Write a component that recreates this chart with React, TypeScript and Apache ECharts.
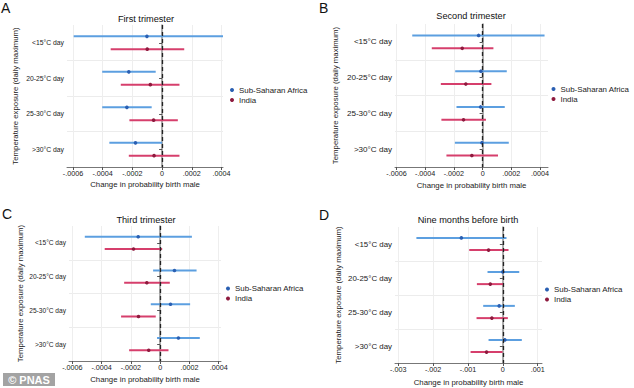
import React, { useEffect, useRef } from 'react';
import * as echarts from 'echarts';

const categories = ['<15°C day', '20-25°C day', '25-30°C day', '>30°C day'];
const seriesNames = ['Sub-Saharan Africa', 'India'];
const panelLetters = ['A', 'B', 'C', 'D'];
const panelTitles = ['First trimester', 'Second trimester', 'Third trimester', 'Nine months before birth'];
const xAxisTitle = 'Change in probability birth male';
const yAxisTitle = 'Temperature exposure (daily maximum)';

// each row: [estimate, lower bound, upper bound], one row per category
const firstSSA = [[-0.000102, -0.000595, 0.00046], [-0.000224, -0.000403, -0.000043], [-0.000237, -0.000403, -0.00007], [-0.000179, -0.000355, 0]];
const firstIndia = [[-0.0001, -0.000346, 0.000149], [-0.000079, -0.000278, 0.000117], [-0.000057, -0.00022, 0.000106], [-0.000054, -0.000224, 0.000117]];
const secondSSA = [[-0.000028, -0.00049, 0.000431], [-0.000012, -0.000191, 0.000168], [-0.000014, -0.000182, 0.000154], [-0.000005, -0.000193, 0.000182]];
const secondIndia = [[-0.000142, -0.000354, 0.000075], [-0.000117, -0.000291, 0.000061], [-0.000133, -0.000287, 0.000023], [-0.000075, -0.000252, 0.000107]];
const thirdSSA = [[-0.00015, -0.000515, 0.000217], [0.000098, -0.000048, 0.000249], [0.000071, -0.000064, 0.000205], [0.000125, -0.000021, 0.000271]];
const thirdIndia = [[-0.000182, -0.000379, 0.000014], [-0.000091, -0.000246, 0.000066], [-0.000148, -0.000267, -0.00003], [-0.000078, -0.000212, 0.000057]];
const nineSSA = [[-0.00119, -0.00248, 0.000105], [0, -0.00044, 0.00047], [-0.000105, -0.000564, 0.000344], [0.000057, -0.00041, 0.000544]];
const nineIndia = [[-0.00041, -0.000965, 0.000162], [-0.00036, -0.000745, 0.00001], [-0.000315, -0.000755, 0.000143], [-0.000468, -0.000926, -0.00001]];

const trimesterTicks = [-0.0006, -0.0004, -0.0002, 0, 0.0002, 0.0004];
const nineMonthTicks = [-0.003, -0.002, -0.001, 0, 0.001];

const panelData = [
  [firstSSA, firstIndia],
  [secondSSA, secondIndia],
  [thirdSSA, thirdIndia],
  [nineSSA, nineIndia],
];
const panelTicks = [trimesterTicks, trimesterTicks, trimesterTicks, nineMonthTicks];
const panelExtent = [
  [-0.00064, 0.00041],
  [-0.00061, 0.000455],
  [-0.000623, 0.000416],
  [-0.003094, 0.001123],
];

// layout (pixels)
const layout = [
  { left: 67, top: 25, width: 156, height: 142, yLabel: 6.8, yGap: 48, xGap: 13, legendLeft: 230, legendTop: 86, letterX: 1, letterY: 8, titleX: 146, titleY: 19 },
  { left: 395, top: 24, width: 153, height: 143, yLabel: 8.1, yGap: 56, xGap: 14, legendLeft: 551.5, legendTop: 85, letterX: 319, letterY: 8, titleX: 471, titleY: 16 },
  { left: 69, top: 226, width: 152, height: 135, yLabel: 6.6, yGap: 45, xGap: 14.5, legendLeft: 226, legendTop: 284.5, letterX: 2, letterY: 214, titleX: 146, titleY: 219.5 },
  { left: 395, top: 227, width: 147, height: 136, yLabel: 7.9, yGap: 53, xGap: 15.5, legendLeft: 545, legendTop: 285.5, letterX: 319, letterY: 214.5, titleX: 468, titleY: 219.5 },
];

const lineColors = ['#5c9fe0', '#d63f6c'];
const dotColors = ['#2a5fb2', '#8e1a3e'];
const shifts = [-0.18, 0.18];
const FONT = '"Liberation Sans", Arial, Helvetica, sans-serif';

function fmt(v: number): string {
  if (Math.abs(v) < 1e-12) return '0';
  const s = Number(v.toPrecision(6)).toString();
  return s.replace(/^(-?)0\./, '$1.');
}

function makeRenderItem(k: number) {
  return (params: any, api: any) => {
    const cat = api.value(0);
    const est = api.value(1);
    const lo = api.value(2);
    const hi = api.value(3);
    const band = api.size([0, 1])[1];
    const y = api.coord([0, cat])[1] + shifts[k] * band;
    const cs = params.coordSys;
    const clampX = (x: number) => Math.max(cs.x, Math.min(cs.x + cs.width, x));
    const x0 = clampX(api.coord([lo, cat])[0]);
    const x1 = clampX(api.coord([hi, cat])[0]);
    const xe = api.coord([est, cat])[0];
    return {
      type: 'group',
      children: [
        { type: 'line', shape: { x1: x0, y1: y, x2: x1, y2: y }, style: { stroke: lineColors[k], lineWidth: 2 } },
        { type: 'circle', shape: { cx: xe, cy: y, r: 1.8 }, style: { fill: dotColors[k] } },
      ],
    };
  };
}

export default function App() {
  const ref = useRef<HTMLDivElement>(null);
  useEffect(() => {
    if (!ref.current) return;
    const chart = echarts.init(ref.current, undefined, { renderer: 'svg' });
    const grid = layout.map((l) => ({ left: l.left, top: l.top, width: l.width, height: l.height, containLabel: false }));
    const xAxis = layout.map((l, i) => ({
      type: 'value',
      gridIndex: i,
      min: panelExtent[i][0],
      max: panelExtent[i][1],
      name: xAxisTitle,
      nameLocation: 'middle',
      nameGap: l.xGap,
      nameTextStyle: { fontSize: 7.8, color: '#222', fontFamily: FONT },
      axisLine: { show: true, onZero: false, lineStyle: { color: '#777', width: 1 } },
      axisTick: { show: true, length: 3, customValues: panelTicks[i], lineStyle: { color: '#555' } },
      axisLabel: { customValues: panelTicks[i], formatter: fmt, fontSize: 7.2, color: '#222', fontFamily: FONT, margin: 3 },
      splitLine: { show: true, lineStyle: { color: '#eeeeee', width: 1 } },
    }));
    const yAxis = layout.map((l, i) => ({
      type: 'category',
      gridIndex: i,
      inverse: true,
      data: categories,
      name: yAxisTitle,
      nameLocation: 'middle',
      nameRotate: 90,
      nameGap: l.yGap,
      nameTextStyle: { fontSize: 7.8, color: '#222', fontFamily: FONT },
      axisLine: { show: true, lineStyle: { color: '#999', width: 1.6 } },
      axisTick: { show: true, alignWithLabel: true, length: 3, lineStyle: { color: '#555' } },
      axisLabel: { fontSize: l.yLabel, color: '#222', fontFamily: FONT, margin: 3 },
      splitLine: { show: true, showMinLine: false, showMaxLine: false, lineStyle: { color: '#ececec', width: 1 } },
    }));
    const series: any[] = [];
    panelData.forEach((pair, i) => {
      pair.forEach((rows, k) => {
        series.push({
          type: 'custom',
          name: seriesNames[k],
          xAxisIndex: i,
          yAxisIndex: i,
          itemStyle: { color: dotColors[k] },
          renderItem: makeRenderItem(k),
          encode: { x: [1, 2, 3], y: 0 },
          data: rows.map((r, c) => [c, r[0], r[1], r[2]]),
          markLine: k === 0 ? {
            silent: true,
            symbol: ['none', 'none'],
            label: { show: false },
            lineStyle: { type: [4, 3], color: '#222', width: 1.3 },
            data: [{ xAxis: 0 }],
          } : undefined,
          z: 3,
        });
      });
    });
    const legend = layout.map((l) => ({
      orient: 'vertical',
      left: l.legendLeft,
      top: l.legendTop,
      icon: 'circle',
      itemWidth: 4,
      itemHeight: 4,
      itemGap: 2,
      padding: 0,
      textStyle: { fontSize: 7.9, color: '#222', fontFamily: FONT },
      data: seriesNames.map((n, k) => ({ name: n, itemStyle: { color: dotColors[k] } })),
    }));
    const graphic: any[] = [];
    layout.forEach((l, i) => {
      graphic.push({
        type: 'text', x: l.letterX, y: l.letterY,
        style: { text: panelLetters[i], fontSize: 14, fontFamily: FONT, fill: '#111', align: 'left', verticalAlign: 'middle' },
      });
      graphic.push({
        type: 'text', x: l.titleX, y: l.titleY,
        style: { text: panelTitles[i], fontSize: 9.2, fontFamily: FONT, fill: '#111', align: 'center', verticalAlign: 'middle' },
      });
    });
    graphic.push({ type: 'rect', shape: { x: 3, y: 373, width: 52, height: 13 }, style: { fill: '#a3a3a3' } });
    graphic.push({
      type: 'text', x: 29, y: 379.5,
      style: { text: '© PNAS', fontSize: 11, fontWeight: 'bold', fontFamily: FONT, fill: '#ffffff', align: 'center', verticalAlign: 'middle' },
    });
    chart.setOption({
      animation: false,
      backgroundColor: '#ffffff',
      grid, xAxis, yAxis, series, legend, graphic,
    });
    return () => chart.dispose();
  }, []);
  return <div ref={ref} style={{ position: 'fixed', left: 0, top: 0, width: 634, height: 388 }} />;
}
